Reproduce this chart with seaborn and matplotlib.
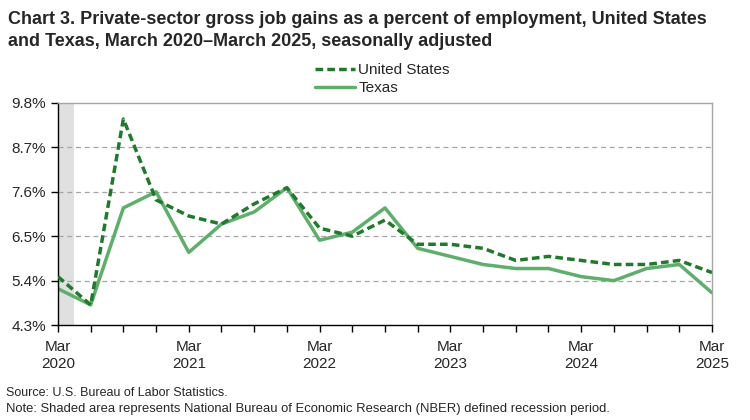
import matplotlib
matplotlib.use("Agg")
import matplotlib.pyplot as plt
import seaborn as sns
import pandas as pd
import numpy as np

sns.set_theme(style="white")
plt.rcParams["font.family"] = ["Liberation Sans", "DejaVu Sans"]

# quarterly, Mar 2020 .. Mar 2025
quarters = list(range(21))
us = [5.5, 4.8, 9.4, 7.4, 7.0, 6.8, 7.3, 7.7, 6.7, 6.5, 6.9,
      6.3, 6.3, 6.2, 5.9, 6.0, 5.9, 5.8, 5.8, 5.9, 5.6]
texas = [5.2, 4.8, 7.2, 7.6, 6.1, 6.8, 7.1, 7.7, 6.4, 6.6, 7.2,
         6.2, 6.0, 5.8, 5.7, 5.7, 5.5, 5.4, 5.7, 5.8, 5.1]
year_labels = ["Mar\n2020", "Mar\n2021", "Mar\n2022", "Mar\n2023", "Mar\n2024", "Mar\n2025"]
y_ticks = [4.3, 5.4, 6.5, 7.6, 8.7, 9.8]

df = pd.DataFrame({"q": quarters, "United States": us, "Texas": texas})

fig = plt.figure(figsize=(7.5, 4.2), dpi=100)
ax = fig.add_axes([0.0773, 0.226, 0.872, 0.529])

# recession shading
ax.axvspan(0, 0.5, color="#e0e0e0", lw=0, zorder=0)

for y in y_ticks[1:-1]:
    ax.axhline(y, color="#a6a6a6", lw=0.9, ls=(0, (4, 3)), zorder=1)

sns.lineplot(data=df, x="q", y="United States", ax=ax, color="#217a2b",
             lw=2.5, ls=(0, (2.2, 1.2)), label="United States", zorder=3)
sns.lineplot(data=df, x="q", y="Texas", ax=ax, color="#5fae6b",
             lw=2.5, label="Texas", zorder=2)

ax.set_xlim(0, 20)
ax.set_ylim(4.3, 9.8)
ax.set_yticks(y_ticks)
ax.set_yticklabels([f"{v:.1f}%" for v in y_ticks], fontsize=11)
ax.set_xticks(quarters)
ax.set_xticklabels([year_labels[i // 4] if i % 4 == 0 else "" for i in quarters],
                   fontsize=11)
ax.tick_params(axis="x", direction="out", length=5, width=1, color="black", bottom=True, pad=6)
ax.tick_params(axis="y", direction="out", length=5, width=1, color="black", left=True)
ax.set_xlabel("")
ax.set_ylabel("")

for side in ["left", "bottom"]:
    ax.spines[side].set_color("black")
    ax.spines[side].set_linewidth(1)
for side in ["top", "right"]:
    ax.spines[side].set_color("#a6a6a6")
    ax.spines[side].set_linewidth(1)

ax.get_legend().remove()
handles, labels = ax.get_legend_handles_labels()
fig.legend(handles, labels, loc="center", bbox_to_anchor=(0.51, 0.812),
           frameon=False, fontsize=11, handlelength=2.6, handletextpad=0.2,
           labelspacing=0.25)

fig.text(0.011, 0.975,
         "Chart 3. Private-sector gross job gains as a percent of employment, United States\n"
         "and Texas, March 2020\u2013March 2025, seasonally adjusted",
         fontsize=13, fontweight="bold", va="top", ha="left", linespacing=1.4)
fig.text(0.008, 0.064, "Source: U.S. Bureau of Labor Statistics.", fontsize=9, va="center")
fig.text(0.008, 0.027,
         "Note: Shaded area represents National Bureau of Economic Research (NBER) defined recession period.",
         fontsize=9.4, va="center")

fig.savefig("out.png", dpi=100)
